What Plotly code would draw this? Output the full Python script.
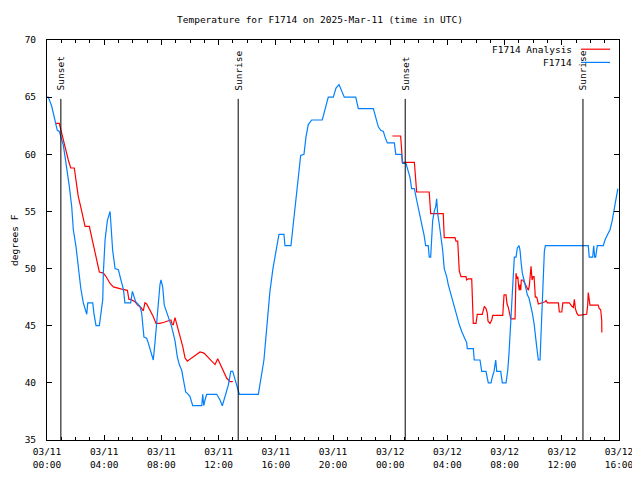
import datetime as dt
import plotly.graph_objects as go

START = dt.datetime(2025, 3, 11, 0, 0)

# F1714 observations: hours after 2025-03-11 00:00 UTC, temperature (F)
obs_hours = [0, 0.09, 0.33, 0.56, 0.72, 0.86, 0.98, 1.14, 1.26, 1.42, 1.56, 1.73, 1.84, 2.03, 2.19, 2.36,
             2.54, 2.71, 2.78, 2.85, 3.20, 3.29, 3.43, 3.66, 3.76, 3.90, 3.94, 4.06, 4.22, 4.41, 4.48,
             4.59, 4.76, 4.99, 5.17, 5.34, 5.45, 5.85, 5.97, 6.08, 6.20, 6.50, 6.62, 6.78, 6.97, 7.08,
             7.32, 7.43, 7.55, 7.67, 7.78, 7.90, 7.97, 8.09, 8.20, 8.37, 8.55, 8.72, 8.95, 9.11, 9.25,
             9.42, 9.58, 9.70, 9.88, 10.00, 10.19, 10.82, 10.89, 10.96, 11.05, 11.17, 11.87, 12.10,
             12.26, 12.38, 12.57, 12.68, 12.85, 12.99, 13.15, 13.31, 13.45, 14.78, 14.90, 15.03, 15.17,
             15.31, 15.45, 15.59, 15.80, 16.01, 16.22, 16.57, 16.64, 16.78, 17.06, 17.18, 17.34, 17.57,
             17.74, 17.97, 18.11, 18.27, 18.51, 19.25, 19.44, 19.67, 20.02, 20.21, 20.42, 20.61, 20.79,
             21.59, 21.77, 22.82, 22.99, 23.17, 23.34, 23.52, 23.64, 23.80, 24.29, 24.39, 24.80, 24.87,
             25.10, 25.22, 25.38, 25.50, 25.69, 25.85, 26.01, 26.13, 26.27, 26.36, 26.48, 26.66, 26.73,
             26.83, 26.90, 26.97, 27.08, 27.18, 27.25, 27.32, 27.43, 27.55, 27.67, 27.78, 27.95, 28.06,
             28.23, 28.41, 28.60, 28.83, 29.00, 29.16, 29.35, 29.39, 29.81, 29.88, 30.28, 30.40, 30.70,
             30.86, 31.05, 31.14, 31.26, 31.38, 31.45, 31.73, 31.84, 32.10, 32.22, 32.31, 32.38, 32.45,
             32.54, 32.61, 32.68, 32.80, 32.89, 33.01, 33.08, 33.15, 33.24, 33.36, 33.48, 33.59, 33.71,
             33.83, 33.94, 34.06, 34.13, 34.25, 34.36, 34.48, 34.55, 34.64, 34.71, 34.78, 34.85, 37.85,
             37.92, 38.16, 38.23, 38.30, 38.37, 38.48, 38.90, 39.02, 39.21, 39.37, 39.51, 39.64, 39.76,
             39.92]
obs_temps = [65, 65, 64.2, 63.1, 62.1, 62, 61.5, 60.8, 59.8, 58.6, 57.2, 55.4, 53.4, 51.9, 49.9, 48.3,
             47, 46.1, 46, 47, 47, 46, 45, 45, 45.8, 47.3, 49.6, 52.5, 54.2, 55, 53.7,
             51.6, 50, 49.9, 49, 48.2, 47, 47, 48, 47.6, 47.1, 46.7, 46.1, 44, 43.9, 43.5,
             42.6, 42, 43.5, 45.3, 47.3, 48.6, 49, 48.4, 46.8, 46.2, 45.5, 44.9, 43.7, 42.3, 41.6,
             41.1, 40, 39.2, 39, 38.8, 38, 38, 39, 38, 38.5, 39, 39, 38.5,
             38, 38.5, 39.4, 39.8, 41, 41, 40.3, 39.7, 39, 39, 40, 41, 42,
             44, 46, 48, 50, 51.5, 53, 53, 52, 52, 52, 53.4, 55.4, 58,
             59.9, 60, 61.5, 62.6, 63, 63, 63.9, 65, 65, 65.8, 66.1, 65.6, 65,
             65, 64, 64, 63.1, 62.4, 62.1, 62, 61.5, 61, 61, 60, 60, 59.2,
             59.2, 58.6, 58, 57, 57, 56, 55, 54.1, 53.5, 53, 52, 52, 51,
             51, 52.3, 54.2, 55, 55.4, 56.1, 54.8, 53.9, 52.8, 51.6, 50, 49.3, 48.6,
             47.8, 47, 46, 45.1, 44.5, 44.1, 43.5, 43, 43, 42, 42, 41, 41,
             40, 40, 40.5, 41, 42, 41, 41, 40, 40, 41.1, 42.6, 44.1, 45.8,
             47.8, 49.3, 51, 51, 51.8, 52, 51.6, 50.6, 49.6, 49, 48.3, 47.7, 47.4,
             46.8, 46.1, 45.2, 44.2, 43.1, 42, 42, 44.3, 47.5, 50.2, 51.5, 52, 52,
             51, 51, 52, 51, 51, 52, 52, 52.5, 53, 53.4, 54.1, 55, 56,
             57]

# F1714 Analysis: hours after start, temperature (F); None marks the gap
ana_hours = [0.63, 0.86, 0.98, 1.14, 1.33, 1.49, 1.66, 1.91, 2.03, 2.19, 2.36, 2.50, 2.66, 2.96, 3.13,
             3.36, 3.52, 3.66, 3.94, 4.13, 4.41, 4.64, 4.87, 5.22, 5.62, 5.73, 5.85, 6.15, 6.34, 6.57,
             6.73, 6.85, 6.97, 7.20, 7.43, 7.62, 7.90, 8.18, 8.37, 8.67, 8.76, 8.83, 8.95, 9.07, 9.25,
             9.49, 9.65, 9.81, 10.12, 10.47, 10.70, 10.98, 11.28, 11.52, 11.75, 11.94, 12.10, 12.33,
             12.57, 12.80, 12.99, 18.5,
             24.15, 24.73, 24.80, 24.85, 25.69, 25.79, 25.85, 26.73, 26.78, 26.83, 27.71, 27.78, 28.53,
             28.60, 28.72, 28.79, 28.83, 28.95, 29.30, 29.35, 29.46, 29.70, 29.77, 29.81, 30.00, 30.09,
             30.44, 30.51, 30.58, 30.70, 30.79, 30.84, 30.98, 31.10, 31.17, 31.87, 31.96, 32.10, 32.17,
             32.26, 32.43, 32.73, 32.80, 32.85, 32.92, 32.99, 33.03, 33.08, 33.13, 33.17, 33.27, 33.38,
             33.48, 33.66, 33.73, 33.78, 33.85, 33.92, 33.99, 34.06, 34.15, 34.25, 34.36, 34.83, 34.90,
             34.99, 35.76, 35.83, 36.00, 36.07, 36.53, 36.70, 36.81, 36.88, 36.95, 37.05, 37.16, 37.74,
             37.81, 37.85, 37.92, 37.97, 38.55, 38.62, 38.72, 38.79, 38.80]
ana_temps = [62.7, 62.7, 62.1, 61.2, 60.4, 59.5, 58.8, 58.8, 57.7, 56.3, 55.4, 54.5, 53.7, 53.7, 52.8,
             51.3, 50.5, 49.7, 49.6, 49.3, 48.7, 48.4, 48.3, 48.2, 48.1, 47.3, 47.3, 47.1, 46.8, 46.6,
             46.3, 47, 46.9, 46.4, 45.8, 45.2, 45.2, 45.3, 45.4, 45.5, 45.1, 45.1, 45.7, 45.2, 44.3,
             43.2, 42.2, 41.9, 42.2, 42.5, 42.7, 42.6, 42.2, 41.9, 41.6, 42.1, 41.7, 41,
             40.4, 40.1, 40.1, None,
             61.6, 61.6, 60.4, 59.3, 59.3, 57.5, 56.7, 56.7, 55.7, 54.8, 54.8, 52.7, 52.7,
             52.4, 52.4, 51, 49.8, 49.3, 49.3, 49, 49.1, 49.1, 47.1, 45.2, 45.2, 46,
             46, 46.4, 46.7, 46.5, 46.1, 45.4, 45.2, 45.5, 45.9, 45.9, 47.7, 47.7, 46.9,
             46.6, 45.6, 45.6, 49.6, 49.1, 49.3, 48.4, 48.1, 48.6, 48.1, 49, 49, 48.8,
             48.5, 48.1, 48.5, 49.7, 50.2, 49, 49.3, 49.3, 47.5, 47.5, 46.9, 47.1, 47.2,
             47, 47, 46.2, 46.2, 47, 47, 46.7, 46.6, 47.3, 46.5, 46.1, 45.9, 46,
             46.8, 47.9, 47.3, 46.8, 46.8, 46.5, 46.4, 45.5, 44.4]

sun_labels = ["Sunset", "Sunrise", "Sunset", "Sunrise"]
sun_hours = [0.97, 13.37, 25.05, 37.48]

series_names = ["F1714 Analysis", "F1714"]
series_colors = ["#ff0000", "#0080ff"]

FONT = "DejaVu Sans Mono"
FS = 9.5


def to_time(h):
    return START + dt.timedelta(hours=h)


fig = go.Figure()
fig.add_trace(go.Scatter(x=[to_time(h) for h in ana_hours], y=ana_temps, mode="lines",
                         name=series_names[0], line=dict(color=series_colors[0], width=1.2),
                         connectgaps=False))
fig.add_trace(go.Scatter(x=[to_time(h) for h in obs_hours], y=obs_temps, mode="lines",
                         name=series_names[1], line=dict(color=series_colors[1], width=1.2)))

for lab, h in zip(sun_labels, sun_hours):
    t = to_time(h)
    fig.add_shape(type="line", xref="x", yref="y", x0=t, x1=t, y0=35, y1=64.85,
                  line=dict(color="black", width=1))
    fig.add_annotation(x=t, y=65.4, xref="x", yref="y", text=lab, textangle=-90,
                       showarrow=False, xanchor="center", yanchor="bottom",
                       font=dict(family=FONT, size=FS, color="black"))

# gnuplot-style legend: text on the left, sample line on the right
leg_y = [0.977, 0.944]
for name, color, yy in zip(series_names, series_colors, leg_y):
    fig.add_annotation(x=0.9213, y=yy, xref="paper", yref="paper", text=name, showarrow=False,
                       xanchor="right", yanchor="middle", font=dict(family=FONT, size=FS, color="black"))
    fig.add_shape(type="line", xref="paper", yref="paper", x0=0.9336, x1=0.9843, y0=yy, y1=yy,
                  line=dict(color=color, width=1.2))

fig.add_annotation(x=-0.0577, y=0.5, xref="paper", yref="paper", text="degrees F", textangle=-90,
                   showarrow=False, xanchor="center", yanchor="middle",
                   font=dict(family=FONT, size=FS, color="black"))

# the page body adds an 8px offset, so the figure is sized to fit the remaining window
fig.update_layout(
    width=632, height=472,
    margin=dict(l=39, r=21, t=32, b=40, autoexpand=False),
    paper_bgcolor="white", plot_bgcolor="white",
    showlegend=False,
    font=dict(family=FONT, size=FS, color="black"),
    title=dict(text="Temperature for F1714 on 2025-Mar-11 (time in UTC)", x=312 / 632, xref="container",
               xanchor="center", y=1 - 12 / 472, yref="container", yanchor="middle",
               font=dict(family=FONT, size=FS, color="black"), automargin=False),
    xaxis=dict(type="date", range=[to_time(0), to_time(40)], tickmode="linear",
               tick0=to_time(0), dtick=4 * 3600000, tickformat="%m/%d\n%H:%M",
               ticks="inside", ticklen=5, tickcolor="black", showline=True, linecolor="black",
               linewidth=1, mirror="ticks", showgrid=False, zeroline=False, ticklabelstandoff=3,
               automargin=False,
               minor=dict(ticks="inside", ticklen=3, dtick=3600000, tick0=to_time(0),
                          tickcolor="black", showgrid=False)),
    yaxis=dict(range=[35, 70], tickmode="linear", tick0=35, dtick=5, ticks="inside", ticklen=5,
               tickcolor="black", showline=True, linecolor="black", linewidth=1, mirror="ticks",
               showgrid=False, zeroline=False, ticklabelstandoff=8, automargin=False),
)

fig.write_html("out.html")
